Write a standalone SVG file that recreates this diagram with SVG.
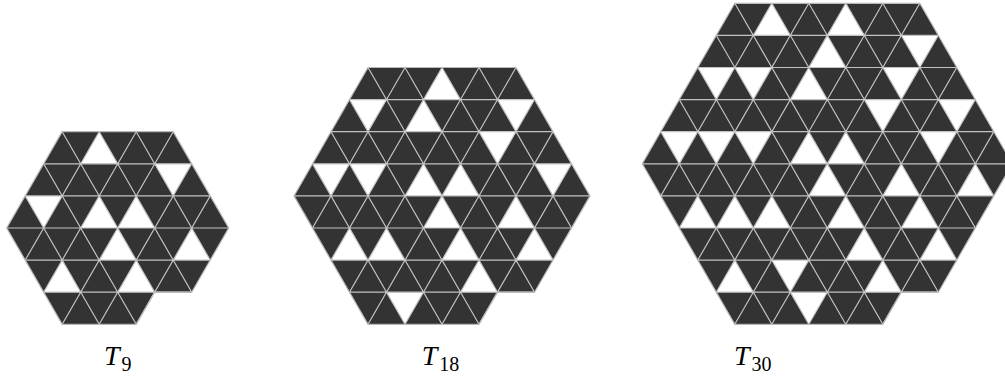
<svg xmlns="http://www.w3.org/2000/svg" width="1005" height="376" viewBox="0 0 1005 376">
<style>
.dark{fill:#333333}
.w polygon{fill:#ffffff}
.grid{fill:none;stroke:#c2c2c2;stroke-width:1.2;vector-effect:non-scaling-stroke}
.edge{fill:none;stroke:#b8b8b8;stroke-width:1.2;vector-effect:non-scaling-stroke}
.lbl{font-family:"Liberation Serif","Times New Roman",serif;font-size:28px;fill:#000}
.lbl .t{font-style:italic}
.lbl .s{font-size:20px}
</style>
<defs>
<clipPath id="c9"><polygon points="3,4 9,4 12,7 10,9 8,9 7,10 3,10 0,7"/></clipPath>
<clipPath id="c18"><polygon points="4,2 12,2 16,6 13,9 11,9 10,10 4,10 0,6"/></clipPath>
<clipPath id="c30"><polygon points="5,0 15,0 20,5 16,9 14,9 13,10 5,10 0,5"/></clipPath>
</defs>

<g id="fig-T9" transform="translate(6.7,3.3) scale(18.5,32.1)">
<polygon class="dark" points="3,4 9,4 12,7 10,9 8,9 7,10 3,10 0,7"/>
<g class="w">
<polygon points="5,4 4,5 6,5"/>
<polygon points="8,5 10,5 9,6"/>
<polygon points="1,6 3,6 2,7"/>
<polygon points="5,6 4,7 6,7"/>
<polygon points="7,6 6,7 8,7"/>
<polygon points="6,7 5,8 7,8"/>
<polygon points="10,7 9,8 11,8"/>
<polygon points="3,8 2,9 4,9"/>
<polygon points="7,8 6,9 8,9"/>
</g>
<path class="grid" clip-path="url(#c9)" d="M0 5H12M0 6H12M0 7H12M0 8H12M0 9H12M5 4L-1 10M7 4L1 10M9 4L3 10M11 4L5 10M13 4L7 10M-1 4L5 10M1 4L7 10M3 4L9 10M5 4L11 10M7 4L13 10"/>
<polygon class="edge" points="3,4 9,4 12,7 10,9 8,9 7,10 3,10 0,7"/>
</g>

<g id="fig-T18" transform="translate(294,3.3) scale(18.5,32.1)">
<polygon class="dark" points="4,2 12,2 16,6 13,9 11,9 10,10 4,10 0,6"/>
<g class="w">
<polygon points="8,2 7,3 9,3"/>
<polygon points="3,3 5,3 4,4"/>
<polygon points="7,3 6,4 8,4"/>
<polygon points="11,3 13,3 12,4"/>
<polygon points="10,4 12,4 11,5"/>
<polygon points="1,5 3,5 2,6"/>
<polygon points="3,5 5,5 4,6"/>
<polygon points="7,5 6,6 8,6"/>
<polygon points="9,5 8,6 10,6"/>
<polygon points="13,5 15,5 14,6"/>
<polygon points="8,6 7,7 9,7"/>
<polygon points="12,6 11,7 13,7"/>
<polygon points="3,7 2,8 4,8"/>
<polygon points="5,7 4,8 6,8"/>
<polygon points="9,7 8,8 10,8"/>
<polygon points="13,7 12,8 14,8"/>
<polygon points="10,8 9,9 11,9"/>
<polygon points="5,9 7,9 6,10"/>
</g>
<path class="grid" clip-path="url(#c18)" d="M0 3H16M0 4H16M0 5H16M0 6H16M0 7H16M0 8H16M0 9H16M6 2L-2 10M8 2L0 10M10 2L2 10M12 2L4 10M14 2L6 10M16 2L8 10M18 2L10 10M-2 2L6 10M0 2L8 10M2 2L10 10M4 2L12 10M6 2L14 10M8 2L16 10M10 2L18 10"/>
<polygon class="edge" points="4,2 12,2 16,6 13,9 11,9 10,10 4,10 0,6"/>
</g>

<g id="fig-T30" transform="translate(642.3,3.3) scale(18.5,32.1)">
<polygon class="dark" points="5,0 15,0 20,5 16,9 14,9 13,10 5,10 0,5"/>
<g class="w">
<polygon points="7,0 6,1 8,1"/>
<polygon points="11,0 10,1 12,1"/>
<polygon points="10,1 9,2 11,2"/>
<polygon points="14,1 16,1 15,2"/>
<polygon points="3,2 5,2 4,3"/>
<polygon points="5,2 7,2 6,3"/>
<polygon points="9,2 8,3 10,3"/>
<polygon points="13,2 15,2 14,3"/>
<polygon points="12,3 14,3 13,4"/>
<polygon points="16,3 18,3 17,4"/>
<polygon points="1,4 3,4 2,5"/>
<polygon points="3,4 5,4 4,5"/>
<polygon points="5,4 7,4 6,5"/>
<polygon points="9,4 8,5 10,5"/>
<polygon points="11,4 10,5 12,5"/>
<polygon points="15,4 17,4 16,5"/>
<polygon points="10,5 9,6 11,6"/>
<polygon points="14,5 13,6 15,6"/>
<polygon points="18,5 17,6 19,6"/>
<polygon points="3,6 2,7 4,7"/>
<polygon points="5,6 4,7 6,7"/>
<polygon points="7,6 6,7 8,7"/>
<polygon points="11,6 10,7 12,7"/>
<polygon points="15,6 14,7 16,7"/>
<polygon points="12,7 11,8 13,8"/>
<polygon points="16,7 15,8 17,8"/>
<polygon points="5,8 4,9 6,9"/>
<polygon points="7,8 9,8 8,9"/>
<polygon points="13,8 12,9 14,9"/>
<polygon points="8,9 10,9 9,10"/>
</g>
<path class="grid" clip-path="url(#c30)" d="M0 1H20M0 2H20M0 3H20M0 4H20M0 5H20M0 6H20M0 7H20M0 8H20M0 9H20M7 0L-3 10M9 0L-1 10M11 0L1 10M13 0L3 10M15 0L5 10M17 0L7 10M19 0L9 10M21 0L11 10M23 0L13 10M-3 0L7 10M-1 0L9 10M1 0L11 10M3 0L13 10M5 0L15 10M7 0L17 10M9 0L19 10M11 0L21 10M13 0L23 10"/>
<polygon class="edge" points="5,0 15,0 20,5 16,9 14,9 13,10 5,10 0,5"/>
</g>

<g id="labels">
<text class="lbl" y="365"><tspan class="t" x="104">T</tspan><tspan class="s" x="121.5" dy="6">9</tspan></text>
<text class="lbl" y="365"><tspan class="t" x="421.7">T</tspan><tspan class="s" x="439.3" dy="6">18</tspan></text>
<text class="lbl" y="365"><tspan class="t" x="734">T</tspan><tspan class="s" x="751.6" dy="6">30</tspan></text>
</g>
</svg>
